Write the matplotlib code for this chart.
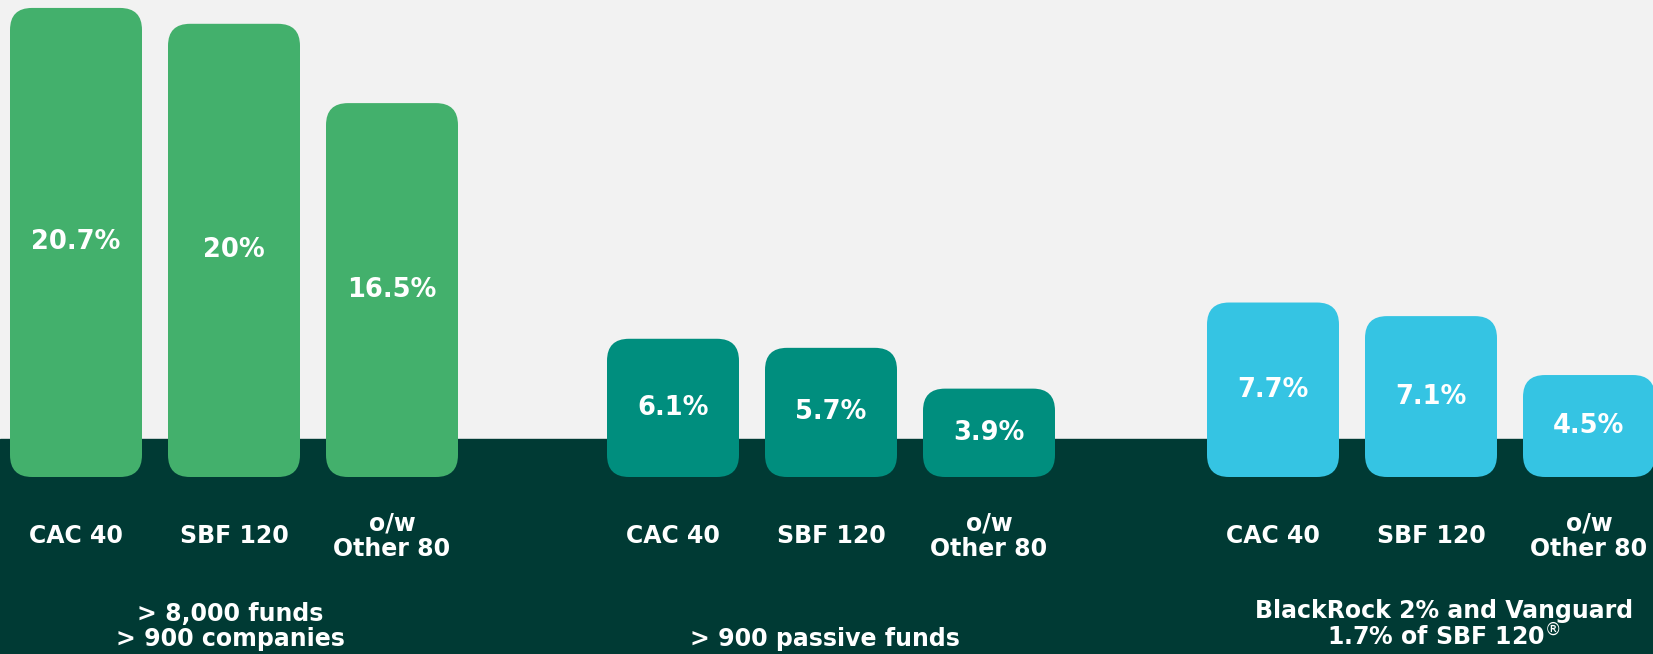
import matplotlib.pyplot as plt
from matplotlib.patches import FancyBboxPatch

# data
groups = ['> 8,000 funds\n> 900 companies', '> 900 passive funds',
          'BlackRock 2% and Vanguard\n1.7% of SBF 120$^{\\circledR}$']
categories = ['CAC 40', 'SBF 120', 'o/w\nOther 80']
all_funds = [20.7, 20.0, 16.5]
passive_funds = [6.1, 5.7, 3.9]
blackrock_vanguard = [7.7, 7.1, 4.5]
value_labels = [['20.7%', '20%', '16.5%'],
                ['6.1%', '5.7%', '3.9%'],
                ['7.7%', '7.1%', '4.5%']]
series = [all_funds, passive_funds, blackrock_vanguard]
colors = ['#43B06C', '#008E7E', '#35C4E3']

BG = '#F2F2F2'
DARK = '#003A34'

W, H = 1653, 654
fig = plt.figure(figsize=(W / 100, H / 100), dpi=100)
fig.patch.set_facecolor(BG)
ax = fig.add_axes([0, 0, 1, 1])

# layout (pixel-like x, percent y)
px_per_unit = 22.66
baseline_px = 477
ymax = baseline_px / px_per_unit
ymin = -(H - baseline_px) / px_per_unit
ax.set_xlim(0, W)
ax.set_ylim(ymin, ymax)
ax.axis('off')

# dark band behind the bottom of the bars
band_top = (baseline_px - 439) / px_per_unit
ax.axhspan(ymin, band_top, color=DARK, zorder=0)

group_start = [10, 607, 1207]
bar_pitch = 158
bar_w = 132
radius = 22
label_x = [230, 825, 1444]

font = dict(family='DejaVu Sans', weight='bold', color='white')

for g, vals in enumerate(series):
    xs = [group_start[g] + i * bar_pitch + bar_w / 2 for i in range(len(vals))]
    bars = ax.bar(xs, vals, width=bar_w, alpha=0)
    for i, b in enumerate(bars):
        patch = FancyBboxPatch((b.get_x(), b.get_y()), b.get_width(), b.get_height(),
                               boxstyle=f'round,pad=0,rounding_size={radius}',
                               mutation_aspect=1 / px_per_unit,
                               facecolor=colors[g], edgecolor='none', zorder=2)
        ax.add_patch(patch)
        ax.text(xs[i], vals[i] / 2, value_labels[g][i], ha='center', va='center',
                fontsize=18.5, zorder=3, **font)
        ax.text(xs[i], -(536 - baseline_px) / px_per_unit, categories[i],
                ha='center', va='center', fontsize=17, linespacing=1.1, zorder=3, **font)
    ax.text(label_x[g], -(651 - baseline_px) / px_per_unit, groups[g],
            ha='center', va='bottom', fontsize=17, linespacing=1.05, zorder=3, **font)

fig.savefig('out.png', dpi=100, facecolor=BG)
